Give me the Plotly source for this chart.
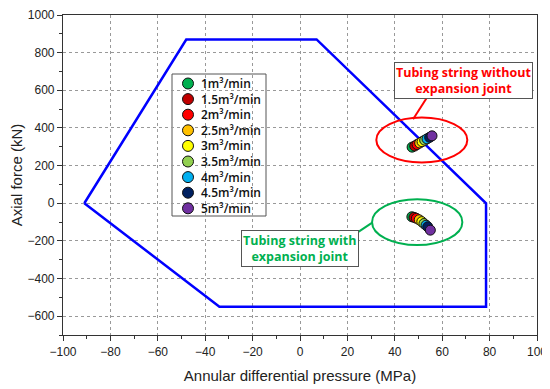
import plotly.graph_objects as go

# Operating envelope polygon (MPa, kN)
env_x = [-91, -48, 7, 78.5, 78.5, -34, -91]
env_y = [0, 870, 870, 0, -550, -550, 0]

# Flow rates and colours
rates = ["1m³/min", "1.5m³/min", "2m³/min", "2.5m³/min", "3m³/min",
         "3.5m³/min", "4m³/min", "4.5m³/min", "5m³/min"]
colors = ["#00b050", "#c00000", "#ff0000", "#ffc000", "#ffff00",
          "#92d050", "#00b0f0", "#002060", "#7030a0"]

# Without expansion joint
wo_x = [47.3, 48.4, 49.4, 50.5, 51.5, 52.6, 53.6, 54.7, 55.7]
wo_y = [298, 304, 312, 320, 327, 335, 342, 350, 358]
# With expansion joint
w_x = [47.2, 48.1, 49.1, 50.3, 51.4, 52.3, 53.2, 53.9, 55.0]
w_y = [-72, -75, -80, -88, -98, -108, -117, -125, -143]

# Page body has an 8px margin; compensate so the plot lands where the reference has it
OFF = 8
L, T, W, H = 63, 15, 474, 320
FW, FH = 550 - OFF, 389 - OFF
def fx(px): return (px - L) / W
def fy(py): return 1 - (py - T) / H

fig = go.Figure()
fig.add_trace(go.Scatter(x=env_x, y=env_y, mode="lines",
                         line=dict(color="#0000ff", width=2.5),
                         showlegend=False, hoverinfo="skip"))
for i, name in enumerate(rates):
    fig.add_trace(go.Scatter(
        x=[wo_x[i], w_x[i]], y=[wo_y[i], w_y[i]], mode="markers", name=name,
        showlegend=False,
        marker=dict(size=10, color=colors[i], line=dict(color="#111", width=1))))

# Custom legend (compact rows) on overlay axes
ROW = 15.6
leg_x = [fx(188)] * len(rates)
leg_y = [fy(83.5 + ROW * i) for i in range(len(rates))]
fig.add_shape(type="rect", xref="paper", yref="paper",
              x0=fx(172), x1=fx(266), y0=fy(216), y1=fy(74),
              line=dict(color="#555", width=1), fillcolor="white", layer="between")
fig.add_trace(go.Scatter(
    x=leg_x, y=leg_y, xaxis="x2", yaxis="y2", mode="markers",
    marker=dict(size=11, color=colors, line=dict(color="#111", width=1)),
    showlegend=False, hoverinfo="skip", cliponaxis=False))
fig.add_annotation(x=fx(199), y=fy(83.5 + ROW * 4), xref="paper", yref="paper",
                   text="<br>".join(rates), align="left",
                   showarrow=False, xanchor="left", yanchor="middle",
                   font=dict(family="Open Sans", size=12, color="#111", weight=600))

# Ellipses
fig.add_shape(type="circle", xref="x", yref="y", x0=32.2, x1=70.6, y0=217, y1=455,
              line=dict(color="#ff0000", width=2))
fig.add_shape(type="circle", xref="x", yref="y", x0=30.4, x1=68.5, y0=-222, y1=21,
              line=dict(color="#00b050", width=2))
# Connectors
fig.add_shape(type="line", xref="x", yref="y", x0=54.2, y0=574, x1=47.7, y1=446,
              line=dict(color="#ff0000", width=2))
fig.add_shape(type="line", xref="x", yref="y", x0=24.3, y0=-155, x1=30.5, y1=-103,
              line=dict(color="#00b050", width=2))

fig.add_annotation(x=68.9, y=651, xref="x", yref="y", showarrow=False,
                   text="Tubing string without<br>expansion joint",
                   font=dict(family="Open Sans", size=12.5, color="#ff0000", weight="bold"),
                   bgcolor="white", bordercolor="#555", borderwidth=1, borderpad=1)
fig.add_annotation(x=0, y=-241, xref="x", yref="y", showarrow=False,
                   text="Tubing string with<br>expansion joint",
                   font=dict(family="Open Sans", size=12.5, color="#00b050", weight="bold"),
                   bgcolor="white", bordercolor="#555", borderwidth=1, borderpad=1)

axis_common = dict(showline=True, linecolor="#333", linewidth=1.2, mirror=True,
                   ticks="outside", ticklen=5, tickcolor="#333", automargin=False,
                   ticklabeloverflow="allow",
                   showgrid=True, gridcolor="#999", griddash="dot", gridwidth=1,
                   zeroline=False, tickfont=dict(family="Liberation Sans", size=12, color="#222"),
                   title_font=dict(family="Liberation Sans", size=15, color="#222"))

fig.update_xaxes(range=[-100, 100], dtick=20, tick0=-100,
                 minor=dict(dtick=10, ticks="outside", ticklen=3, tickcolor="#333", showgrid=False),
                 title_text="Annular differential pressure (MPa)", title_standoff=12, **axis_common)
fig.update_yaxes(range=[-700, 1000], dtick=200, tick0=0,
                 minor=dict(dtick=100, ticks="outside", ticklen=3, tickcolor="#333", showgrid=False),
                 title_text="Axial force (kN)", title_standoff=6, **axis_common)

fig.update_layout(
    width=FW, height=FH,
    margin=dict(l=L - OFF, r=FW - (L - OFF) - W, t=T - OFF, b=FH - (T - OFF) - H),
    plot_bgcolor="white", paper_bgcolor="white",
    showlegend=False,
    xaxis2=dict(overlaying="x", range=[0, 1], visible=False, fixedrange=True),
    yaxis2=dict(overlaying="y", range=[0, 1], visible=False, fixedrange=True),
)

fig.write_html("out.html")
